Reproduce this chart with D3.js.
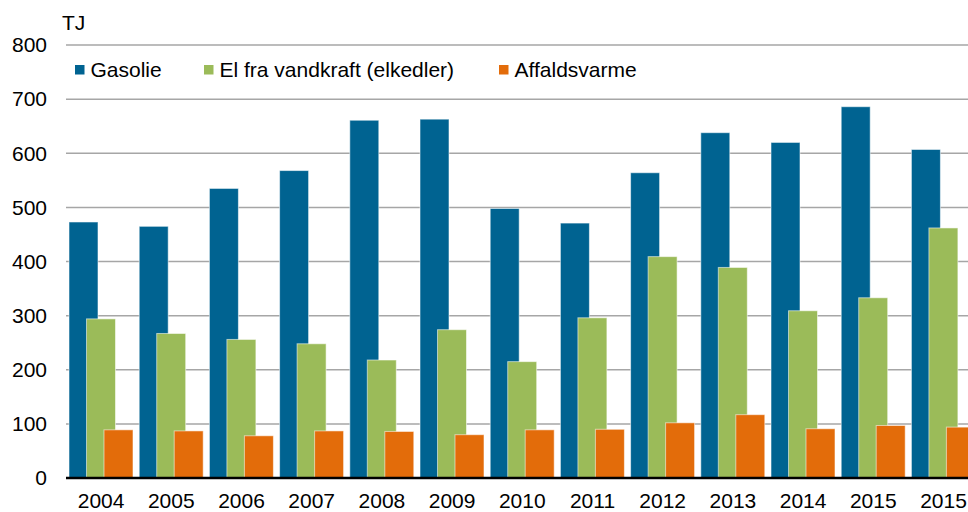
<!DOCTYPE html>
<html>
<head>
<meta charset="utf-8">
<script src="https://cdn.jsdelivr.net/npm/d3@7"></script>
<style>
  body { margin: 0; background: #fff; }
  svg { font-family: "Liberation Sans", Arial, sans-serif; }
</style>
</head>
<body>
<div id="chart"></div>
<script>
const years = ["2004", "2005", "2006", "2007", "2008", "2009", "2010", "2011", "2012", "2013", "2014", "2015", "2015"];
const gasolie = [473, 465, 535, 568, 661, 663, 498, 471, 564, 638, 620, 686, 607];
const elVandkraft = [294, 267, 256, 248, 218, 274, 215, 296, 409, 389, 309, 333, 462];
const affaldsvarme = [89, 87, 78, 87, 86, 80, 89, 90, 102, 117, 91, 97, 94];
const seriesNames = ["Gasolie", "El fra vandkraft (elkedler)", "Affaldsvarme"];
const seriesColors = ["#006391", "#9bbb59", "#e36c0a"];
const yTicks = [0, 100, 200, 300, 400, 500, 600, 700, 800];

const width = 968,
      height = 512,
      margin = ({ top: 45, right: 0, bottom: 34, left: 66 }),
      step = 70.2,
      fontSize = 21;

const svg = d3.select("#chart")
    .append("svg")
    .attr("width", width)
    .attr("height", height);

const x = d3.scaleBand()
    .domain(years.map((d, i) => i))
    .range([margin.left, margin.left + years.length * step])
    .padding(0);

const y = d3.scaleLinear()
    .domain([0, 800])
    .range([height - margin.bottom, margin.top]);

// gridlines
svg.append("g")
    .selectAll("line")
    .data(yTicks.filter(d => d > 0))
    .join("line")
    .attr("x1", margin.left)
    .attr("x2", width)
    .attr("y1", d => y(d))
    .attr("y2", d => y(d))
    .attr("stroke", "#a6a6a6")
    .attr("stroke-width", 1.5);

// y labels
svg.append("g")
    .selectAll("text")
    .data(yTicks)
    .join("text")
    .attr("x", 47)
    .attr("y", d => y(d))
    .attr("dy", "0.35em")
    .attr("text-anchor", "end")
    .attr("font-size", fontSize)
    .attr("fill", "#000")
    .text(d => d);

svg.append("text")
    .attr("x", 62)
    .attr("y", 30)
    .attr("font-size", fontSize)
    .text("TJ");

// bars: each group blue, then green, then orange, overlapping
const barW = 29, offs = 17.5;
const allSeries = [gasolie, elVandkraft, affaldsvarme];

let group = svg.selectAll(".grp")
    .data(years.map((d, i) => i))
    .join("g")
    .attr("class", "grp");

allSeries.forEach((vals, s) => {
    group.append("rect")
        .attr("x", i => x(i) + 3 + s * offs)
        .attr("width", barW)
        .attr("y", i => y(vals[i]))
        .attr("height", i => y(0) - y(vals[i]))
        .attr("fill", seriesColors[s])
        .attr("stroke", "rgba(255,255,255,0.55)")
        .attr("stroke-width", 1);
});

// baseline
svg.append("line")
    .attr("x1", margin.left)
    .attr("x2", width)
    .attr("y1", y(0))
    .attr("y2", y(0))
    .attr("stroke", "#000")
    .attr("stroke-width", 2.5);

// x labels
svg.append("g")
    .selectAll("text")
    .data(years)
    .join("text")
    .attr("x", (d, i) => x(i) + x.bandwidth() / 2)
    .attr("y", 508)
    .attr("text-anchor", "middle")
    .attr("font-size", fontSize)
    .text(d => d);

// legend
const legendX = [75, 204, 499];
const legend = svg.append("g")
    .selectAll("g")
    .data(seriesNames)
    .join("g")
    .attr("transform", (d, i) => `translate(${legendX[i]}, 0)`);

legend.append("rect")
    .attr("x", 0)
    .attr("y", 65)
    .attr("width", 9.5)
    .attr("height", 9.5)
    .attr("fill", (d, i) => seriesColors[i]);

legend.append("text")
    .attr("x", 15.5)
    .attr("y", 76.5)
    .attr("font-size", fontSize)
    .text(d => d);
</script>
</body>
</html>
